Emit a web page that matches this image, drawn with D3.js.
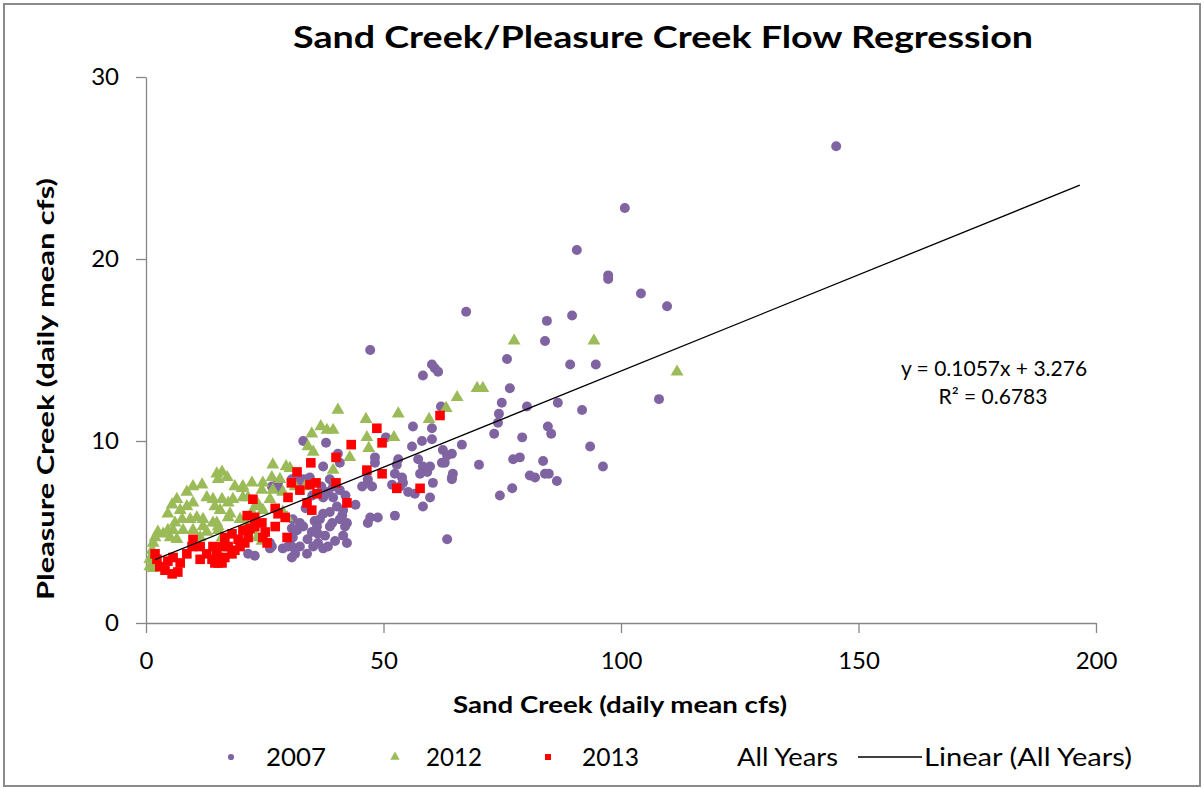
<!DOCTYPE html>
<html>
<head>
<meta charset="utf-8">
<script src="https://cdn.jsdelivr.net/npm/d3@7"></script>
<style>
  body { margin: 0; background: #fff; }
  text { font-family: Lato, "Open Sans", sans-serif; fill: #000; }
</style>
</head>
<body>
<svg id="chart"></svg>
<script>
// Data: [Sand Creek cfs, Pleasure Creek cfs]
const s2007 = [
  [145.3,26.2],[100.8,22.8],[90.7,20.5],[97.3,19.1],[97.3,18.9],[104.2,18.1],[109.7,17.4],[67.4,17.1],
  [84.4,16.6],[89.7,16.9],[84.0,15.5],[47.2,15.0],[76.0,14.5],[89.3,14.2],[94.7,14.2],[60.2,14.2],
  [60.8,14.0],[61.5,13.8],[58.3,13.6],[76.6,12.9],[108.0,12.3],[74.9,12.1],[74.3,11.5],[74.1,11.0],
  [73.3,10.4],[80.2,11.9],[86.7,12.1],[91.8,11.7],[84.6,10.8],[85.3,10.4],[79.2,10.2],[93.5,9.7],
  [77.3,9.0],[78.7,9.1],[83.6,8.9],[96.2,8.6],[80.8,8.1],[81.9,8.0],[84.0,8.2],[84.8,8.2],
  [86.5,7.8],[77.1,7.4],[74.5,7.0],[63.4,4.6],[66.5,9.8],[64.4,9.3],[70.1,8.7],[64.6,8.2],
  [64.4,7.9],[62.1,11.9],[56.2,10.8],[60.2,10.7],[60.2,10.1],[58.1,10.0],[56.0,9.7],[62.5,9.5],
  [63.4,9.2],[62.9,8.8],[62.3,8.8],[64.4,8.0],[57.3,9.0],[58.3,8.6],[59.8,8.6],[59.2,8.3],
  [57.7,8.2],[53.1,9.0],[52.8,8.7],[52.4,8.2],[53.9,8.0],[54.1,7.7],[51.8,7.6],[53.5,7.5],
  [48.2,9.1],[48.2,8.8],[46.7,7.7],[47.6,7.5],[60.4,7.7],[59.8,6.9],[58.3,6.4],[55.2,7.2],
  [56.6,7.1],[52.4,5.9],[47.2,5.8],[46.7,5.5],[48.8,5.8],[50.5,10.2],[45.5,7.5],[33.1,10.0],
  [37.9,9.9],[40.4,9.3],[40.8,8.8],[37.3,8.6],[34.5,8.0],[33.1,7.9],[31.8,8.0],[30.7,7.9],
  [38.7,7.9],[39.4,7.5],[38.3,7.2],[37.3,6.9],[39.4,6.9],[40.2,6.4],[41.5,6.2],[41.3,5.9],
  [38.7,6.1],[37.3,6.0],[41.9,5.3],[41.5,4.8],[42.3,4.4],[39.2,5.5],[37.7,4.8],[36.2,4.9],
  [34.9,5.0],[33.1,5.3],[32.4,5.5],[31.8,5.1],[30.9,4.7],[30.7,4.2],[31.4,3.8],[32.4,4.2],
  [33.9,3.8],[35.2,4.2],[36.2,4.4],[37.3,4.1],[38.3,4.2],[30.7,3.6],[46.7,7.9],[26.5,7.5],
  [27.8,7.7],[21.5,3.8],[22.9,3.7],[25.7,4.4],[26.5,4.2],[28.8,4.1],[29.9,4.2],[30.7,5.2],
  [26.1,4.4],[26.1,4.1],[40.8,7.3],[36.6,5.7],[38.7,5.3],[40.8,5.7],[42.3,5.5],[36.0,5.3],
  [30.9,5.7],[32.4,7.7],[33.9,7.9],[28.2,7.3],[34.0,4.6],[35.5,5.6],[39.8,4.5],[33.6,6.3],
  [35.0,7.0],[36.9,7.5],[42.0,7.0],[44.1,6.5]
];

const s2012 = [
  [77.5,15.5],[94.3,15.5],[111.8,13.8],[69.7,12.9],[70.9,12.9],[65.5,12.4],[63.2,11.8],[59.6,11.2],
  [53.1,11.5],[40.4,11.7],[46.3,11.2],[36.8,10.8],[38.1,10.6],[39.4,10.6],[34.9,10.4],[46.5,10.2],
  [52.2,10.2],[34.1,9.7],[35.2,9.4],[46.9,9.6],[42.9,9.1],[39.4,8.4],[33.5,7.5],[31.4,7.5],
  [30.3,8.5],[26.7,8.7],[29.5,8.6],[26.5,8.0],[28.2,7.9],[28.8,7.2],[24.6,7.7],[22.3,7.7],
  [20.4,7.5],[16.0,8.3],[15.2,7.9],[17.1,8.0],[18.7,7.5],[20.2,7.4],[24.4,7.3],[20.4,6.9],
  [18.3,6.8],[17.3,6.6],[17.7,6.0],[16.0,6.8],[14.5,6.4],[15.6,6.2],[21.5,6.9],[23.4,6.6],
  [26.1,6.8],[29.7,5.8],[28.8,6.1],[22.3,6.1],[23.4,6.4],[24.6,6.2],[26.7,7.3],[14.9,5.5],
  [15.2,5.3],[16.0,4.7],[23.4,4.7],[24.4,4.5],[22.3,5.1],[17.3,5.8],[19.8,5.7],[21.3,5.4],
  [14.9,8.2],[9.9,7.5],[8.6,7.2],[11.8,7.6],[12.8,6.9],[14.1,6.8],[6.5,6.8],[5.5,6.5],
  [4.6,6.0],[7.2,6.2],[8.6,6.4],[9.9,6.6],[10.7,5.8],[9.3,5.7],[7.6,5.7],[6.1,5.5],
  [4.6,5.1],[3.6,4.9],[2.5,5.0],[1.9,4.7],[1.5,4.4],[1.3,4.0],[0.8,3.5],[0.8,3.1],
  [1.5,3.0],[5.7,5.1],[7.8,5.1],[9.9,5.1],[12.0,5.3],[12.0,5.7],[14.1,5.5],[15.2,5.1],
  [5.1,4.7],[6.5,4.6],[12.8,5.0],[11.4,4.7]
];

const s2013 = [
  [61.9,11.4],[48.6,10.7],[43.2,9.8],[49.7,9.9],[40.0,9.1],[34.7,8.8],[46.5,8.4],[49.7,8.2],
  [40.0,7.7],[35.8,7.7],[34.5,7.6],[52.8,7.4],[57.7,7.4],[42.3,6.6],[33.9,6.6],[34.9,6.2],
  [36.0,7.1],[32.4,7.3],[31.8,8.3],[30.6,7.7],[29.9,6.9],[22.5,6.8],[21.3,5.9],[22.9,5.8],
  [24.4,5.5],[21.9,5.2],[22.9,5.3],[25.1,5.0],[24.6,4.7],[25.5,4.4],[21.5,4.7],[20.4,5.1],
  [27.2,6.3],[27.8,6.0],[29.3,5.8],[27.2,5.3],[29.7,4.7],[16.6,4.7],[18.1,4.9],[19.4,4.6],
  [17.3,4.2],[18.7,4.0],[16.0,4.2],[15.2,3.6],[16.6,3.6],[14.5,3.3],[16.0,3.3],[18.1,3.8],
  [19.8,4.2],[20.8,4.4],[1.9,3.8],[2.3,3.5],[2.9,3.1],[4.0,2.9],[5.5,2.7],[6.7,2.8],
  [7.2,3.3],[4.6,3.4],[5.7,3.6],[8.6,3.8],[9.7,4.2],[9.9,4.6],[11.4,4.2],[11.4,3.5],
  [12.8,3.8],[13.9,3.5],[14.9,3.8],[15.2,3.3],[14.1,4.2]
];

// Linear trend on all years, as printed on the chart
const trendSlope = 0.1057;
const trendIntercept = 3.276;
const trendRange = [1.9, 196.6];
const equationLines = ['y = 0.1057x + 3.276', 'R\u00b2 = 0.6783'];

const xTicks = [0, 50, 100, 150, 200];
const yTicks = [0, 10, 20, 30];
const legendLabels = ['2007', '2012', '2013', 'All Years', 'Linear (All Years)'];

// Set size
const width = 1204;
const height = 788;
const plot = { left: 146, right: 1096, top: 77, bottom: 623 };
const colors = { p2007: '#8064a2', p2012: '#9bbb59', p2013: '#ff0000', axis: '#868686' };

const svg = d3.select('#chart')
  .attr('width', width)
  .attr('height', height);

// Outer chart frame
svg.append('rect')
  .attr('x', 4).attr('y', 4)
  .attr('width', width - 8).attr('height', height - 6)
  .attr('fill', '#fff')
  .attr('stroke', '#8a8a8a')
  .attr('stroke-width', 2);

const x = d3.scaleLinear().domain([0, 200]).range([plot.left, plot.right]);
const y = d3.scaleLinear().domain([0, 30]).range([plot.bottom, plot.top]);

// Axes
const xAxis = svg.append('g')
  .attr('transform', `translate(0, ${plot.bottom})`)
  .call(d3.axisBottom(x).tickValues(xTicks).tickSize(10).tickSizeOuter(0).tickPadding(19));
const yAxis = svg.append('g')
  .attr('transform', `translate(${plot.left}, 0)`)
  .call(d3.axisLeft(y).tickValues(yTicks).tickSize(10).tickSizeOuter(0).tickPadding(17));

[xAxis, yAxis].forEach(function (a) {
  a.selectAll('path, line').attr('stroke', colors.axis).attr('stroke-width', 1.3);
  a.selectAll('text').style('font-size', '24px').attr('fill', '#000');
});

// Markers: 2007 first, then 2012, then 2013 on top
const symCircle = d3.symbol().type(d3.symbolCircle).size(78);
const symTri = d3.symbol().type(d3.symbolTriangle).size(72);
const symSquare = d3.symbol().type(d3.symbolSquare).size(92);

function place(d) { return `translate(${x(d[0])},${y(d[1])})`; }

svg.append('g').selectAll('path')
  .data(s2007).enter().append('path')
  .attr('d', symCircle)
  .attr('transform', place)
  .attr('fill', colors.p2007);

svg.append('g').selectAll('path')
  .data(s2012).enter().append('path')
  .attr('d', symTri)
  .attr('transform', place)
  .attr('fill', colors.p2012);

svg.append('g').selectAll('path')
  .data(s2013).enter().append('path')
  .attr('d', symSquare)
  .attr('transform', place)
  .attr('fill', colors.p2013);

// Trend line
const line = d3.line()
  .x(function (d) { return x(d); })
  .y(function (d) { return y(trendSlope * d + trendIntercept); });
svg.append('path')
  .datum(trendRange)
  .attr('d', line)
  .attr('fill', 'none')
  .attr('stroke', '#000')
  .attr('stroke-width', 1.3);

// Equation label
svg.append('text')
  .attr('x', 994).attr('y', 376)
  .attr('text-anchor', 'middle')
  .style('font-size', '21px')
  .text(equationLines[0]);
svg.append('text')
  .attr('x', 993).attr('y', 404)
  .attr('text-anchor', 'middle')
  .style('font-size', '21px')
  .text(equationLines[1]);

// Titles
svg.append('text')
  .attr('x', 663).attr('y', 48)
  .attr('text-anchor', 'middle')
  .attr('textLength', 740).attr('lengthAdjust', 'spacingAndGlyphs')
  .style('font-size', '30px').style('font-weight', 'bold')
  .text('Sand Creek/Pleasure Creek Flow Regression');

svg.append('text')
  .attr('x', 620).attr('y', 713)
  .attr('text-anchor', 'middle')
  .attr('textLength', 334).attr('lengthAdjust', 'spacingAndGlyphs')
  .style('font-size', '22px').style('font-weight', 'bold')
  .text('Sand Creek (daily mean cfs)');

svg.append('text')
  .attr('transform', 'translate(54, 389) rotate(-90)')
  .attr('text-anchor', 'middle')
  .attr('textLength', 422).attr('lengthAdjust', 'spacingAndGlyphs')
  .style('font-size', '22px').style('font-weight', 'bold')
  .text('Pleasure Creek (daily mean cfs)');

// Legend
const legendY = 757;
const legend = svg.append('g');
legend.append('path').attr('d', d3.symbol().type(d3.symbolCircle).size(30)())
  .attr('transform', `translate(231, ${legendY})`).attr('fill', colors.p2007);
legend.append('path').attr('d', d3.symbol().type(d3.symbolTriangle).size(38)())
  .attr('transform', `translate(395, ${legendY})`).attr('fill', colors.p2012);
legend.append('path').attr('d', d3.symbol().type(d3.symbolSquare).size(36)())
  .attr('transform', `translate(548, ${legendY})`).attr('fill', colors.p2013);
legend.append('line')
  .attr('x1', 858).attr('x2', 922).attr('y1', legendY).attr('y2', legendY)
  .attr('stroke', '#000').attr('stroke-width', 1.3);

const legendTextX = [266, 426, 582, 737, 924];
const legendTextW = [60, 56, 57, 101, 208];
legend.selectAll('text')
  .data(legendLabels).enter().append('text')
  .attr('x', function (d, i) { return legendTextX[i]; })
  .attr('y', legendY)
  .attr('dy', '0.35em')
  .attr('textLength', function (d, i) { return legendTextW[i]; })
  .attr('lengthAdjust', 'spacingAndGlyphs')
  .style('font-size', '25px')
  .text(function (d) { return d; });
</script>
</body>
</html>
